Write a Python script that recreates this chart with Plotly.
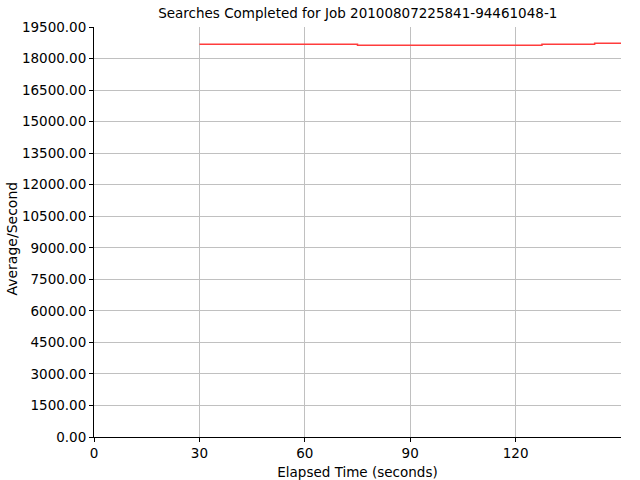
import plotly.graph_objects as go

# step values (one value per collection interval)
elapsed = [30, 75, 127.5, 142.5, 150]
avg_per_sec = [18680, 18630, 18680, 18725, 18725]

y_ticks = [i * 1500 for i in range(14)]
y_labels = [f'{v:.2f}' for v in y_ticks]
x_ticks = [0, 30, 60, 90, 120]

font = 'DejaVu Sans'

fig = go.Figure()
fig.add_trace(go.Scatter(x=elapsed, y=avg_per_sec, mode='lines',
                         line_shape='hv', line_color='#ff3c3c', line_width=1.5))

fig = (fig
  .update_layout(
      width=640, height=480,
      plot_bgcolor='white', paper_bgcolor='white',
      margin_l=94, margin_r=19, margin_t=27, margin_b=43,
      showlegend=False,
      title=dict(text='Searches Completed for Job 20100807225841-94461048-1',
                 x=0.559, xanchor='center', y=0.972, yanchor='middle',
                 pad=dict(t=0, b=0),
                 font=dict(family=font, size=13.5, color='black')),
      font=dict(family=font, size=13.5, color='black'),
  )
  .add_annotation(text='Average/Second', textangle=-90, showarrow=False,
                  xref='paper', yref='paper', x=-0.1556, y=0.484,
                  xanchor='center', yanchor='middle',
                  font=dict(family=font, size=14, color='black'))
  .update_xaxes(range=[0, 150], tickvals=x_ticks, showgrid=True,
                gridcolor='#c0c0c0', gridwidth=1, showline=True,
                linecolor='black', linewidth=1, ticks='outside', ticklen=4,
                tickcolor='black', zeroline=False, automargin=False,
                title=dict(text='Elapsed Time (seconds)', standoff=8,
                           font=dict(family=font, size=13.5)),
                tickfont=dict(family=font, size=13.5))
  .update_yaxes(range=[0, 19500], tickvals=y_ticks, ticktext=y_labels,
                showgrid=True, gridcolor='#c0c0c0', gridwidth=1,
                showline=True, linecolor='black', linewidth=1,
                ticks='outside', ticklen=4, tickcolor='black', zeroline=False,
                automargin=False,
                tickfont=dict(family=font, size=13.5)))

# drop the default 8px page margin so the figure sits at the window corner
fig.write_html('out.html', config={'displayModeBar': False},
               post_script="document.body.style.margin = '0';")
